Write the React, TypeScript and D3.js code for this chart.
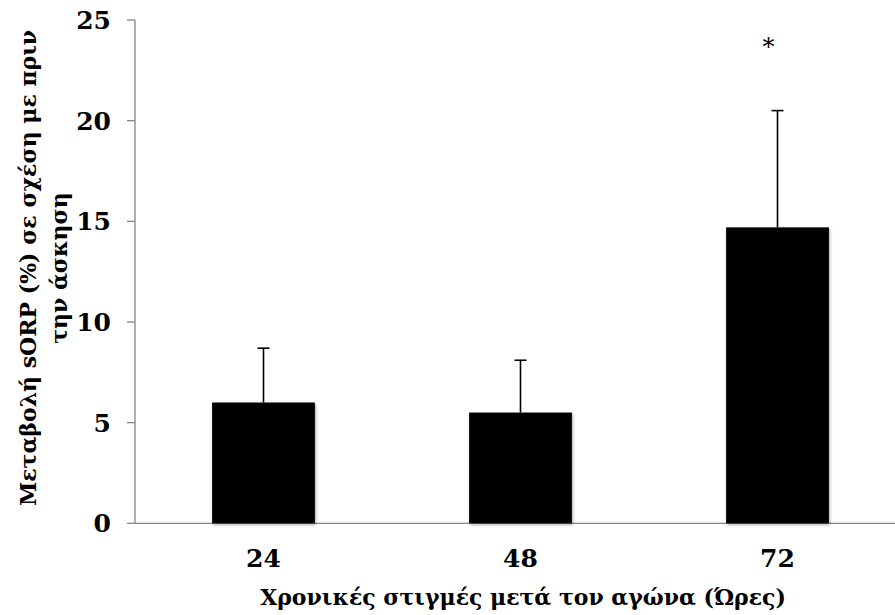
import React, { useEffect, useRef } from "react";
import * as d3 from "d3";

const categories = ["24", "48", "72"];
const means = [6.0, 5.5, 14.7];
const errors = [2.7, 2.6, 5.8];
const significant = [false, false, true];
const yTicks = [0, 5, 10, 15, 20, 25];
const xTitle = "Χρονικές στιγμές μετά τον αγώνα (Ώρες)";
const yTitleLines = ["Μεταβολή sORP (%) σε σχέση με πριν", "την άσκηση"];

const W = 895;
const H = 615;
const FONT = "'DejaVu Serif', serif";

export default function App() {
  const ref = useRef<SVGSVGElement>(null);
  useEffect(() => {
    const svg = d3.select(ref.current);
    svg.selectAll("*").remove();

    const x = d3.scaleBand<string>().domain(categories).range([135, 906]).paddingInner(0.6).paddingOuter(0.3);
    const y = d3.scaleLinear().domain([0, 25]).range([523.3, 20]);

    const defs = svg.append("defs");
    const f = defs.append("filter").attr("id", "sh").attr("x", "-10%").attr("y", "-10%").attr("width", "130%").attr("height", "130%");
    f.append("feDropShadow").attr("dx", 1).attr("dy", 1.5).attr("stdDeviation", 1.5).attr("flood-color", "#000").attr("flood-opacity", 0.35);

    // axes
    const axisColor = "#868686";
    svg.append("line").attr("x1", x.range()[0]).attr("x2", W).attr("y1", y(0)).attr("y2", y(0)).attr("stroke", axisColor).attr("stroke-width", 1.3);
    svg.append("line").attr("x1", 135).attr("x2", 135).attr("y1", y(0)).attr("y2", y(25)).attr("stroke", axisColor).attr("stroke-width", 1.3);
    const yt = svg.append("g");
    yTicks.forEach((t) => {
      yt.append("line").attr("x1", 127).attr("x2", 135).attr("y1", y(t)).attr("y2", y(t)).attr("stroke", axisColor).attr("stroke-width", 1.3);
      yt.append("text").attr("x", 111).attr("y", y(t)).attr("dy", "0.36em").attr("text-anchor", "end")
        .attr("font-family", FONT).attr("font-weight", "bold").attr("font-size", 25).attr("fill", "#000").text(String(t));
    });

    // bars
    const g = svg.append("g");
    categories.forEach((c, i) => {
      const cx = (x(c) as number) + x.bandwidth() / 2;
      g.append("line").attr("x1", cx).attr("x2", cx).attr("y1", y(means[i])).attr("y2", y(means[i] + errors[i])).attr("stroke", "#000").attr("stroke-width", 1.6);
      g.append("line").attr("x1", cx - 6).attr("x2", cx + 6).attr("y1", y(means[i] + errors[i])).attr("y2", y(means[i] + errors[i])).attr("stroke", "#000").attr("stroke-width", 1.6);
      g.append("rect").attr("x", x(c) as number).attr("y", y(means[i])).attr("width", x.bandwidth()).attr("height", y(0) - y(means[i]))
        .attr("fill", "#000").attr("filter", "url(#sh)");
      svg.append("text").attr("x", cx).attr("y", 567).attr("text-anchor", "middle")
        .attr("font-family", FONT).attr("font-weight", "bold").attr("font-size", 25).attr("fill", "#000").text(c);
      if (significant[i]) {
        svg.append("text").attr("x", cx - 9).attr("y", y(means[i] + errors[i]) - 56).attr("text-anchor", "middle")
          .attr("font-family", FONT).attr("font-size", 24).attr("fill", "#000").text("*");
      }
    });

    svg.append("text").attr("x", 523).attr("y", 605).attr("text-anchor", "middle")
      .attr("font-family", FONT).attr("font-weight", "bold").attr("font-size", 22).attr("fill", "#000").text(xTitle);

    const yt2 = svg.append("text").attr("transform", "translate(28,268) rotate(-90)").attr("text-anchor", "middle")
      .attr("font-family", FONT).attr("font-weight", "bold").attr("font-size", 22).attr("fill", "#000");
    yTitleLines.forEach((l, i) => {
      yt2.append("tspan").attr("x", 0).attr("dy", i === 0 ? "0.36em" : "1.4em").text(l);
    });
  }, []);
  return <svg ref={ref} width={W} height={H} style={{ position: "absolute", left: 0, top: 0, background: "#fff" }} />;
}
